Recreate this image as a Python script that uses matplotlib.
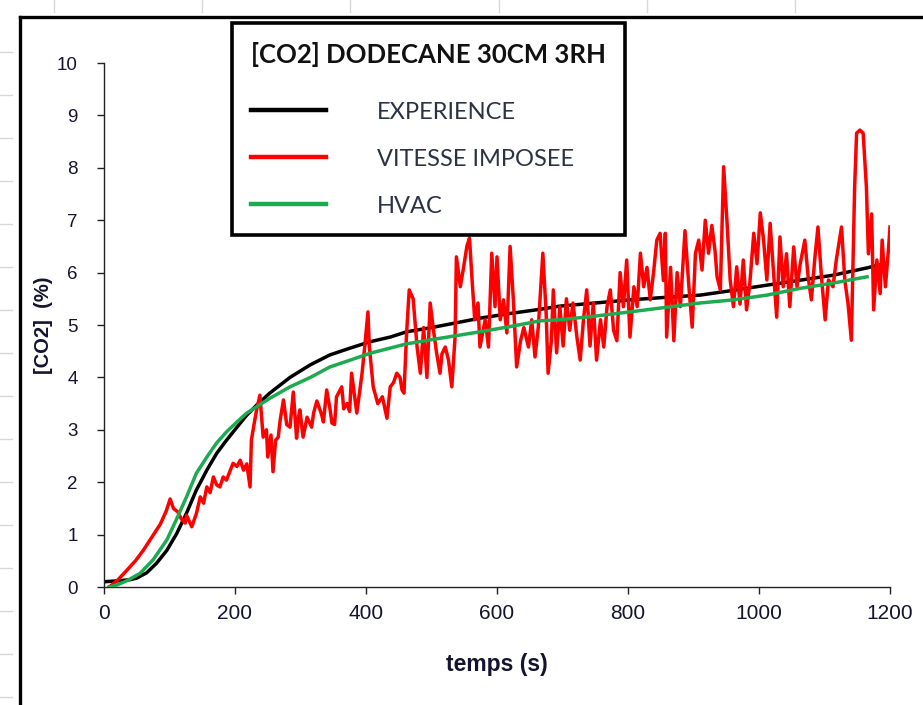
import matplotlib
matplotlib.use("Agg")
import matplotlib.pyplot as plt
from matplotlib.lines import Line2D

# ---------------- data ----------------
exp_t = [0, 24, 40, 50, 65, 80, 96, 111, 126, 141, 157, 172, 187, 203, 218, 233, 253,
         284, 315, 345, 376, 406, 437, 462, 500, 574, 620, 666, 696, 750, 803, 860, 910,
         960, 1012, 1060, 1113, 1165, 1195]
exp_v = [0.1, 0.12, 0.14, 0.17, 0.27, 0.45, 0.7, 1.02, 1.41, 1.85, 2.23, 2.55, 2.8, 3.05,
         3.28, 3.47, 3.7, 4.0, 4.24, 4.43, 4.56, 4.68, 4.77, 4.87, 4.95, 5.13, 5.22, 5.3,
         5.36, 5.42, 5.48, 5.53, 5.57, 5.66, 5.76, 5.85, 5.95, 6.09, 6.18]

hvac_t = [8, 20, 35, 55, 75, 96, 111, 126, 141, 157, 172, 187, 203, 218, 233, 253, 284,
          315, 345, 376, 406, 437, 462, 500, 574, 620, 666, 696, 750, 803, 860, 910, 961,
          1012, 1063, 1113, 1165]
hvac_v = [0.0, 0.04, 0.12, 0.26, 0.52, 0.9, 1.3, 1.72, 2.17, 2.48, 2.75, 2.96, 3.15, 3.32,
          3.44, 3.6, 3.82, 4.0, 4.2, 4.33, 4.46, 4.56, 4.64, 4.72, 4.87, 4.97, 5.08, 5.1,
          5.17, 5.25, 5.34, 5.42, 5.48, 5.57, 5.7, 5.8, 5.92]

vit_t = [8, 20, 35, 48, 60, 73, 86, 95, 101, 106, 113, 118, 124, 126, 134, 141, 147, 152,
         157, 162, 167, 172, 177, 182, 187, 192, 197, 203, 208, 213, 218, 223, 225, 229,
         233, 238, 243, 248, 250, 255, 258, 262, 266, 269, 274, 279, 284, 289, 294, 297,
         299, 304, 310, 317, 320, 325, 332, 335, 340, 345, 348, 352, 355, 363, 366, 371,
         375, 378, 386, 390, 394, 398, 403, 405, 411, 418, 425, 432, 437, 442, 447, 452,
         455, 458, 462, 466, 472, 478, 483, 488, 493, 498, 503, 508, 513, 516, 521, 526,
         531, 536, 538, 544, 549, 554, 558, 562, 566, 571, 574, 582, 587, 592, 597, 600,
         605, 610, 615, 620, 625, 630, 636, 641, 648, 653, 658, 663, 670, 675, 678, 683,
         686, 691, 696, 701, 706, 711, 716, 722, 727, 732, 737, 742, 747, 752, 758, 763,
         768, 773, 778, 783, 788, 793, 798, 803, 809, 814, 819, 824, 829, 834, 839, 844,
         849, 854, 857, 859, 865, 870, 875, 880, 887, 893, 898, 903, 908, 913, 918, 923,
         928, 933, 936, 941, 946, 951, 956, 961, 966, 971, 976, 981, 986, 992, 997, 1002,
         1007, 1012, 1017, 1022, 1027, 1032, 1037, 1042, 1047, 1053, 1058, 1063, 1070,
         1075, 1080, 1085, 1090, 1095, 1101, 1106, 1113, 1118, 1126, 1131, 1136, 1141,
         1146, 1149, 1154, 1159, 1164, 1167, 1172, 1175, 1180, 1185, 1188, 1193, 1198, 1200]
vit_v = [0.0, 0.12, 0.32, 0.5, 0.7, 0.95, 1.2, 1.45, 1.68, 1.5, 1.43, 1.3, 1.22, 1.37, 1.15,
         1.4, 1.72, 1.6, 1.91, 1.8, 2.1, 1.95, 1.91, 2.1, 2.04, 2.2, 2.36, 2.3, 2.42, 2.23,
         2.35, 1.91, 2.8, 3.1, 3.38, 3.66, 2.86, 3.0, 2.48, 2.9, 2.2, 2.8, 2.86, 3.19, 3.57,
         3.1, 3.05, 3.72, 2.84, 3.24, 3.38, 2.86, 3.24, 3.05, 3.32, 3.55, 3.3, 3.15, 3.76,
         3.4, 3.13, 3.1, 3.63, 3.82, 3.4, 3.5, 3.35, 4.08, 3.32, 3.7, 4.08, 4.58, 5.25, 4.6,
         3.82, 3.5, 3.63, 3.22, 3.82, 3.9, 4.08, 4.0, 3.76, 3.7, 4.85, 5.67, 5.5, 4.58, 4.08,
         4.95, 4.0, 5.42, 4.9, 4.45, 4.08, 4.45, 4.58, 4.33, 3.82, 4.77, 6.3, 5.73, 6.1, 6.5,
         6.66, 5.85, 5.1, 5.42, 4.58, 5.1, 4.58, 6.37, 5.35, 6.3, 5.1, 5.48, 4.85, 6.5, 5.48,
         4.2, 4.7, 4.95, 4.58, 5.1, 4.39, 4.95, 6.37, 5.23, 4.08, 4.7, 5.67, 4.47, 5.35, 4.6,
         5.5, 4.9, 5.42, 4.77, 4.33, 5.1, 5.67, 4.6, 5.42, 4.33, 5.1, 4.58, 5.35, 5.67, 4.9,
         4.7, 6.0, 5.35, 6.24, 4.77, 5.73, 5.35, 6.37, 5.73, 6.1, 5.48, 6.0, 6.62, 6.75, 5.85,
         6.75, 4.77, 6.1, 4.7, 6.0, 5.35, 6.8, 5.73, 4.96, 6.37, 6.62, 6.05, 7.0, 6.37, 6.9,
         6.4, 5.92, 5.67, 8.02, 7.0, 5.86, 5.35, 6.11, 5.4, 6.24, 5.29, 5.8, 6.75, 6.17, 7.14,
         6.62, 5.86, 6.94, 6.05, 5.15, 6.68, 5.73, 6.36, 5.35, 6.49, 5.73, 6.17, 6.62, 5.92,
         5.48, 6.24, 6.87, 5.98, 5.1, 5.86, 5.73, 6.24, 6.87, 5.86, 5.4, 4.71, 7.63, 8.66,
         8.72, 8.66, 7.63, 6.36, 7.12, 5.29, 6.24, 5.6, 6.62, 5.73, 6.5, 6.87]

series_labels = ["EXPERIENCE", "VITESSE IMPOSEE", "HVAC"]
chart_title = "[CO2] DODECANE 30CM 3RH"
x_ticks = [0, 200, 400, 600, 800, 1000, 1200]
y_ticks = [0, 1, 2, 3, 4, 5, 6, 7, 8, 9, 10]

# ---------------- figure ----------------
W, H = 923, 705
fig = plt.figure(figsize=(W / 100, H / 100), dpi=100)
fig.patch.set_facecolor("white")

def fx(px):
    return px / W

def fy(py):
    return 1 - py / H

# faint spreadsheet gridline stubs outside the chart border
for x in [54, 202, 350, 499, 647, 795]:
    fig.add_artist(Line2D([fx(x), fx(x)], [fy(0), fy(12)], color="#d8d8d8", lw=1))
for y in range(52, 705, 43):
    fig.add_artist(Line2D([fx(0), fx(12)], [fy(y), fy(y)], color="#d8d8d8", lw=1))

# chart outer border (left + top)
fig.add_artist(Line2D([fx(20), fx(20)], [fy(17), fy(705)], color="black", lw=2.4,
                      solid_capstyle="projecting"))
fig.add_artist(Line2D([fx(20), fx(923)], [fy(17), fy(17)], color="black", lw=2.4,
                      solid_capstyle="projecting"))

ax = fig.add_axes([fx(104), fy(587), fx(890) - fx(104), fy(63) - fy(587)])

ax.plot(exp_t, exp_v, color="black", lw=2.5, label=series_labels[0], zorder=2)
ax.plot(vit_t, vit_v, color="#ff0000", lw=2.5, label=series_labels[1], zorder=3)
ax.plot(hvac_t, hvac_v, color="#1eaa50", lw=2.5, label=series_labels[2], zorder=4)

ax.set_xlim(0, 1200)
ax.set_ylim(0, 10)
ax.set_xticks(x_ticks)
ax.set_yticks(y_ticks)
for s in ["top", "right"]:
    ax.spines[s].set_visible(False)
for s in ["left", "bottom"]:
    ax.spines[s].set_linewidth(1.0)
    ax.spines[s].set_color("#222222")
ax.tick_params(direction="out", length=5, width=1, color="#222222")

tick_color = "#141430"
for lab in ax.get_yticklabels():
    lab.set_fontfamily(["Liberation Sans", "DejaVu Sans"])
    lab.set_fontsize(13.5)
    lab.set_color(tick_color)
for lab in ax.get_xticklabels():
    lab.set_fontfamily(["Liberation Sans", "DejaVu Sans"])
    lab.set_fontsize(15)
    lab.set_color(tick_color)
ax.tick_params(axis="y", pad=14)
ax.tick_params(axis="x", pad=7)

ax.set_xlabel("temps (s)", fontsize=16.5, fontweight="bold", color=tick_color,
              family=["Liberation Sans", "DejaVu Sans"], labelpad=22)
ax.set_ylabel("[CO2]  (%)", fontsize=14.5, fontweight="bold", color=tick_color,
              family=["Liberation Sans", "DejaVu Sans"], labelpad=3)

leg = ax.legend(loc="upper left", bbox_to_anchor=(fx(232), fy(23)),
                bbox_transform=fig.transFigure, title=chart_title,
                frameon=True, fancybox=False, edgecolor="black", framealpha=1,
                prop={"family": ["Lato", "DejaVu Sans"], "size": 17},
                title_fontproperties={"family": ["Lato", "DejaVu Sans"], "size": 18.5,
                                      "weight": "bold"},
                handlelength=3.2, handletextpad=2.15, labelspacing=1.1,
                borderpad=0.8, borderaxespad=0, alignment="left")
leg.get_frame().set_linewidth(2.6)
for line in leg.get_lines():
    line.set_linewidth(3.2)
for txt in leg.get_texts():
    txt.set_color("#2a3244")
leg.get_title().set_color("#111111")
leg._legend_box.sep = 25

fig.savefig("out.png", dpi=100, facecolor="white")
